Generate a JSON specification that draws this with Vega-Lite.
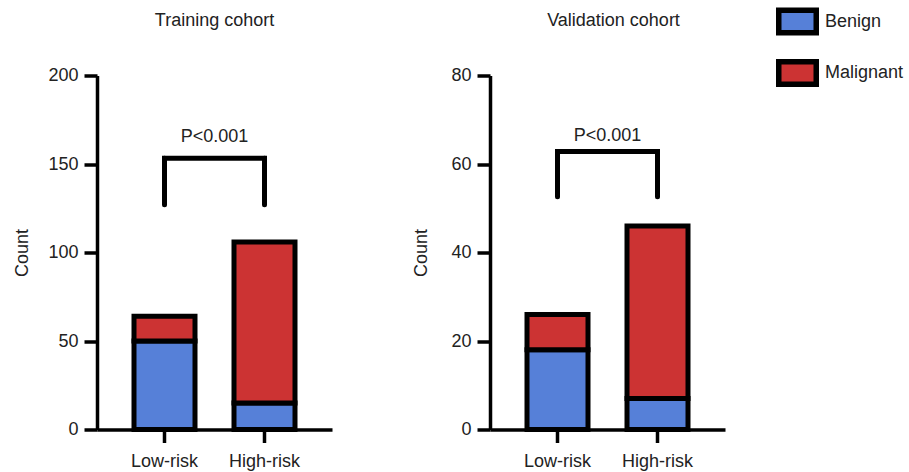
{
  "$schema": "https://vega.github.io/schema/vega-lite/v6.json",
  "autosize": {"type": "none"},
  "padding": {"left": 97, "top": 75.5, "right": 812, "bottom": 396.5},
  "spacing": 80,
  "config": {
    "font": "Liberation Sans",
    "view": {"stroke": null},
    "axis": {"domainColor": "black", "domainWidth": 3.5, "tickColor": "black", "tickWidth": 3.5, "tickSize": 13, "labelFontSize": 18, "labelColor": "#222", "titleFontSize": 18, "titleFontWeight": "normal", "titleColor": "#222", "grid": false, "labelPadding": 6},
    "axisX": {"labelAngle": 0, "title": null, "labelPadding": 10},
    "title": {"fontSize": 18, "fontWeight": "normal", "color": "#222", "offset": 36.5},
    "legend": {"orient": "none", "legendX": 679, "legendY": -75.5, "title": null, "symbolType": "M-1,-0.6H1V0.6H-1Z", "symbolSize": 1406, "symbolStrokeColor": "black", "symbolStrokeWidth": 5.5, "symbolOpacity": 1, "labelFontSize": 18, "labelColor": "#222", "rowPadding": 6.5, "labelOffset": 6}
  },
  "hconcat": [
    {
      "width": 235, "height": 354,
      "title": {"text": "Training cohort"},
      "layer": [
        {
          "data": {"values": [
            {"risk": "Low-risk", "group": "Benign", "count": 50},
            {"risk": "Low-risk", "group": "Malignant", "count": 14},
            {"risk": "High-risk", "group": "Benign", "count": 15},
            {"risk": "High-risk", "group": "Malignant", "count": 91}
          ]},
          "mark": {"type": "bar", "stroke": "black", "strokeWidth": 5},
          "encoding": {
            "x": {"field": "risk", "type": "nominal", "scale": {"domain": ["Low-risk", "High-risk"], "paddingInner": 0.39, "paddingOuter": 0.37}},
            "y": {"field": "count", "type": "quantitative", "stack": "zero", "title": "Count", "scale": {"domain": [0, 200], "nice": false}, "axis": {"values": [0, 50, 100, 150, 200], "titlePadding": 16}},
            "color": {"field": "group", "type": "nominal", "scale": {"domain": ["Benign", "Malignant"], "range": ["#5680d8", "#cc3333"]}},
            "order": {"field": "group", "sort": "ascending"}
          }
        },
        {
          "data": {"values": [
            {"risk": "Low-risk", "bottom": 127, "top": 153.3},
            {"risk": "High-risk", "bottom": 127, "top": 153.3}
          ]},
          "mark": {"type": "rule", "strokeWidth": 5, "strokeCap": "round", "color": "black"},
          "encoding": {
            "x": {"field": "risk", "type": "nominal", "scale": {"domain": ["Low-risk", "High-risk"], "paddingInner": 0.39, "paddingOuter": 0.37}},
            "y": {"field": "bottom", "type": "quantitative", "title": "Count"},
            "y2": {"field": "top"}
          }
        },
        {
          "data": {"values": [
            {"from": "Low-risk", "to": "High-risk", "top": 153.3}
          ]},
          "mark": {"type": "rule", "strokeWidth": 5, "strokeCap": "square", "color": "black"},
          "encoding": {
            "x": {"field": "from", "type": "nominal", "scale": {"domain": ["Low-risk", "High-risk"], "paddingInner": 0.39, "paddingOuter": 0.37}},
            "x2": {"field": "to"},
            "y": {"field": "top", "type": "quantitative", "title": "Count"}
          }
        },
        {
          "data": {"values": [
            {"label": "P<0.001", "labelY": 165.5}
          ]},
          "mark": {"type": "text", "fontSize": 18, "color": "#222"},
          "encoding": {
            "y": {"field": "labelY", "type": "quantitative", "title": "Count"},
            "text": {"field": "label"}
          }
        }
      ]
    },
    {
      "width": 235, "height": 354,
      "title": {"text": "Validation cohort", "dx": 6},
      "layer": [
        {
          "data": {"values": [
            {"risk": "Low-risk", "group": "Benign", "count": 18},
            {"risk": "Low-risk", "group": "Malignant", "count": 8},
            {"risk": "High-risk", "group": "Benign", "count": 7},
            {"risk": "High-risk", "group": "Malignant", "count": 39}
          ]},
          "mark": {"type": "bar", "stroke": "black", "strokeWidth": 5},
          "encoding": {
            "x": {"field": "risk", "type": "nominal", "scale": {"domain": ["Low-risk", "High-risk"], "paddingInner": 0.39, "paddingOuter": 0.37}},
            "y": {"field": "count", "type": "quantitative", "stack": "zero", "title": "Count", "scale": {"domain": [0, 80], "nice": false}, "axis": {"values": [0, 20, 40, 60, 80], "titlePadding": 20}},
            "color": {"field": "group", "type": "nominal", "scale": {"domain": ["Benign", "Malignant"], "range": ["#5680d8", "#cc3333"]}},
            "order": {"field": "group", "sort": "ascending"}
          }
        },
        {
          "data": {"values": [
            {"risk": "Low-risk", "bottom": 52.6, "top": 62.8},
            {"risk": "High-risk", "bottom": 52.6, "top": 62.8}
          ]},
          "mark": {"type": "rule", "strokeWidth": 5, "strokeCap": "round", "color": "black"},
          "encoding": {
            "x": {"field": "risk", "type": "nominal", "scale": {"domain": ["Low-risk", "High-risk"], "paddingInner": 0.39, "paddingOuter": 0.37}},
            "y": {"field": "bottom", "type": "quantitative", "title": "Count"},
            "y2": {"field": "top"}
          }
        },
        {
          "data": {"values": [
            {"from": "Low-risk", "to": "High-risk", "top": 62.8}
          ]},
          "mark": {"type": "rule", "strokeWidth": 5, "strokeCap": "square", "color": "black"},
          "encoding": {
            "x": {"field": "from", "type": "nominal", "scale": {"domain": ["Low-risk", "High-risk"], "paddingInner": 0.39, "paddingOuter": 0.37}},
            "x2": {"field": "to"},
            "y": {"field": "top", "type": "quantitative", "title": "Count"}
          }
        },
        {
          "data": {"values": [
            {"label": "P<0.001", "labelY": 66.3}
          ]},
          "mark": {"type": "text", "fontSize": 18, "color": "#222"},
          "encoding": {
            "y": {"field": "labelY", "type": "quantitative", "title": "Count"},
            "text": {"field": "label"}
          }
        }
      ]
    }
  ]
}
